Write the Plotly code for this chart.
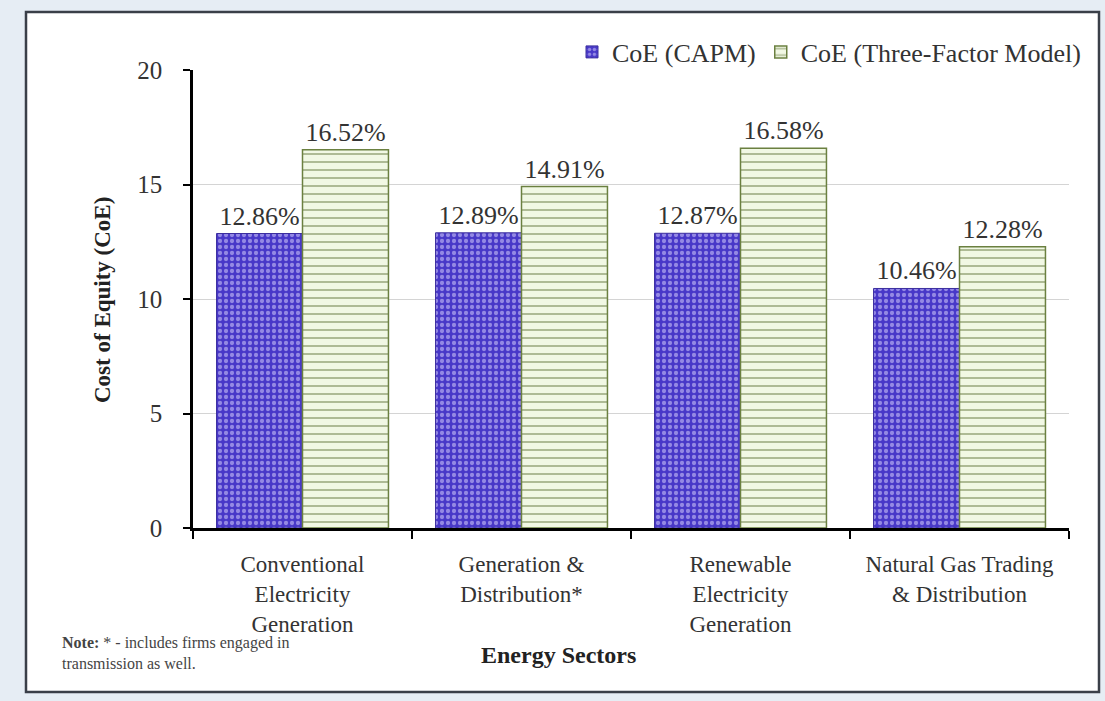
import plotly.graph_objects as go

categories = ["Conventional<br>Electricity<br>Generation",
              "Generation &<br>Distribution*",
              "Renewable<br>Electricity<br>Generation",
              "Natural Gas Trading<br>& Distribution"]
capm = [12.86, 12.89, 12.87, 10.46]
three_factor = [16.52, 14.91, 16.58, 12.28]
y_ticks = [0, 5, 10, 15, 20]

SERIF = "Liberation Serif, Times New Roman, serif"
TXT = "#333333"

# plot area in pixels
L, R, T, B = 193, 1069, 70, 528
W, H = 1105, 701
def px(x):
    return (x - L) / (R - L)
def py(y):
    return (B - y) / (B - T)

fig = go.Figure()
fig.add_trace(go.Bar(
    x=categories, y=capm, name="CoE (CAPM)",
    text=[f"{v:.2f}%" for v in capm], textposition="outside",
    textfont=dict(family=SERIF, size=26, color=TXT),
    marker=dict(
        color="#4a3ccc",
        line=dict(color="#3b2e9e", width=1),
        pattern=dict(shape=".", bgcolor="#4838c8", fgcolor="#e0daff",
                     size=6, solidity=0.4, fillmode="overlay"),
    ),
    constraintext="none", cliponaxis=False,
))
fig.add_trace(go.Bar(
    x=categories, y=three_factor, name="CoE (Three-Factor Model)",
    text=[f"{v:.2f}%" for v in three_factor], textposition="outside",
    textfont=dict(family=SERIF, size=26, color=TXT),
    marker=dict(
        color="#f1f8e4",
        line=dict(color="#6b8040", width=1.5),
        pattern=dict(shape="-", bgcolor="#f1f8e4", fgcolor="#6b7d45",
                     size=8, solidity=0.25, fillmode="overlay"),
    ),
    constraintext="none", cliponaxis=False,
))

fig.update_layout(
    width=W, height=H,
    margin=dict(l=L, r=W - R, t=T, b=H - B, pad=0),
    paper_bgcolor="#e6edf4",
    plot_bgcolor="white",
    barmode="group", bargap=0.215, bargroupgap=0,
    font=dict(family=SERIF, color=TXT),
    showlegend=True,
    legend=dict(orientation="h", x=px(1086), xanchor="right",
                y=py(52), yanchor="middle",
                font=dict(family=SERIF, size=26, color=TXT),
                bgcolor="rgba(0,0,0,0)", itemwidth=30, tracegroupgap=0),
    xaxis=dict(
        showline=True, linecolor="black", linewidth=2.5,
        ticks="outside", ticklen=8, tickcolor="black", tickwidth=1.5,
        tickson="boundaries", tickfont=dict(family=SERIF, size=23, color=TXT),
        ticklabelstandoff=14, showgrid=False,
    ),
    yaxis=dict(
        range=[0, 20], tickvals=y_ticks,
        showline=True, linecolor="black", linewidth=2.5,
        ticks="outside", ticklen=7, tickcolor="black", tickwidth=1.5,
        tickfont=dict(family=SERIF, size=25, color=TXT),
        showgrid=True, gridcolor="#d4d4d4", gridwidth=1, zeroline=False,
        ticklabelstandoff=16,
    ),
    shapes=[
        dict(type="rect", xref="paper", yref="paper",
             x0=px(26), x1=px(1099), y0=py(692), y1=py(12),
             fillcolor="white", line=dict(color="#3a3f48", width=2.5),
             layer="below"),
    ],
    annotations=[
        dict(text="<b>Cost of Equity (CoE)</b>", xref="paper", yref="paper",
             x=px(102), y=py(300), textangle=-90, showarrow=False,
             font=dict(family=SERIF, size=23, color="#222222"),
             xanchor="center", yanchor="middle"),
        dict(text="<b>Energy Sectors</b>", xref="paper", yref="paper",
             x=px(558), y=py(655), showarrow=False,
             font=dict(family=SERIF, size=24, color="#222222"),
             xanchor="center", yanchor="middle"),
        dict(text="<b>Note:</b> * - includes firms engaged in<br>transmission as well.",
             xref="paper", yref="paper", x=px(60), y=py(632),
             xanchor="left", yanchor="top", align="left", showarrow=False,
             font=dict(family=SERIF, size=16, color="#444444")),
    ],
)

fig.write_html("out.html", config={"displayModeBar": False},
               post_script="document.body.style.margin='0';")
